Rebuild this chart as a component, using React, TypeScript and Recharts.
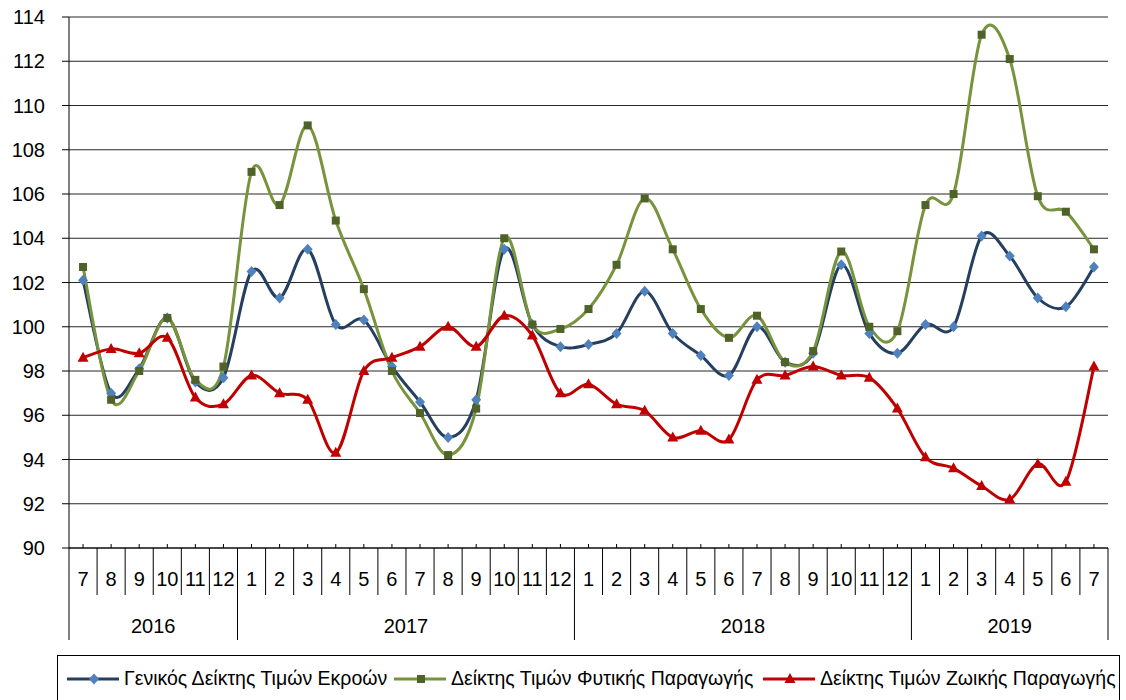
import { CartesianGrid, Legend, Line, LineChart, XAxis, YAxis } from "recharts";

const months = [
  7, 8, 9, 10, 11, 12,
  1, 2, 3, 4, 5, 6, 7, 8, 9, 10, 11, 12,
  1, 2, 3, 4, 5, 6, 7, 8, 9, 10, 11, 12,
  1, 2, 3, 4, 5, 6, 7,
];
const years = [
  ...Array(6).fill("2016"),
  ...Array(12).fill("2017"),
  ...Array(12).fill("2018"),
  ...Array(7).fill("2019"),
];

const general = [
  102.1, 97.0, 98.1, 100.4, 97.5, 97.7,
  102.5, 101.3, 103.5, 100.1, 100.3, 98.2, 96.6, 95.0, 96.7, 103.5, 100.1, 99.1,
  99.2, 99.7, 101.6, 99.7, 98.7, 97.8, 100.0, 98.4, 98.8, 102.8, 99.7, 98.8,
  100.1, 100.0, 104.1, 103.2, 101.3, 100.9, 102.7,
];
const plant = [
  102.7, 96.7, 98.0, 100.4, 97.6, 98.2,
  107.0, 105.5, 109.1, 104.8, 101.7, 98.0, 96.1, 94.2, 96.3, 104.0, 100.1, 99.9,
  100.8, 102.8, 105.8, 103.5, 100.8, 99.5, 100.5, 98.4, 98.9, 103.4, 100.0, 99.8,
  105.5, 106.0, 113.2, 112.1, 105.9, 105.2, 103.5,
];
const animal = [
  98.6, 99.0, 98.8, 99.5, 96.8, 96.5,
  97.8, 97.0, 96.7, 94.3, 98.0, 98.6, 99.1, 100.0, 99.1, 100.5, 99.6, 97.0,
  97.4, 96.5, 96.2, 95.0, 95.3, 94.9, 97.6, 97.8, 98.2, 97.8, 97.7, 96.3,
  94.1, 93.6, 92.8, 92.2, 93.8, 93.0, 98.2,
];

const yTicks = [90, 92, 94, 96, 98, 100, 102, 104, 106, 108, 110, 112, 114];

const seriesNames = [
  "Γενικός Δείκτης Τιμών Εκροών",
  "Δείκτης Τιμών Φυτικής Παραγωγής",
  "Δείκτης Τιμών Ζωικής Παραγωγής",
];

const data = months.map((m, i) => ({
  key: String(i),
  month: m,
  year: years[i],
  general: general[i],
  plant: plant[i],
  animal: animal[i],
}));

const FONT = "'Liberation Sans', Arial, sans-serif";

// excel-like smoothed line (bezier through points, 1/6 neighbour tangents)
const excelSmooth = (context: any) => {
  let pts: number[][] = [];
  return {
    areaStart() {},
    areaEnd() {},
    lineStart() {
      pts = [];
    },
    point(x: number, y: number) {
      pts.push([+x, +y]);
    },
    lineEnd() {
      const n = pts.length;
      if (!n) return;
      context.moveTo(pts[0][0], pts[0][1]);
      const t = 1 / 6;
      for (let i = 0; i < n - 1; i++) {
        const p0 = pts[i - 1] || pts[i];
        const p1 = pts[i];
        const p2 = pts[i + 1];
        const p3 = pts[i + 2] || p2;
        context.bezierCurveTo(
          p1[0] + (p2[0] - p0[0]) * t,
          p1[1] + (p2[1] - p0[1]) * t,
          p2[0] - (p3[0] - p1[0]) * t,
          p2[1] - (p3[1] - p1[1]) * t,
          p2[0],
          p2[1]
        );
      }
    },
  };
};

const Diamond = ({ cx, cy, fill }: any) =>
  cx == null ? null : (
    <path d={`M${cx},${cy - 5.5}L${cx + 5},${cy}L${cx},${cy + 5.5}L${cx - 5},${cy}Z`} fill={fill} />
  );
const Square = ({ cx, cy, fill }: any) =>
  cx == null ? null : <rect x={cx - 4} y={cy - 4} width={8} height={8} fill={fill} />;
const Triangle = ({ cx, cy, fill }: any) =>
  cx == null ? null : (
    <path d={`M${cx},${cy - 6}L${cx + 5.5},${cy + 4}L${cx - 5.5},${cy + 4}Z`} fill={fill} />
  );

const MonthTick = (props: any) => {
  const { x, y, payload } = props;
  const i = payload.index;
  const half = payload.offset || 14;
  const yr = years[i];
  const yearStart = i === 0 || years[i - 1] !== yr;
  const last = i === months.length - 1;
  const count = years.filter((v) => v === yr).length;
  return (
    <g>
      <line x1={x} x2={x} y1={y - 4} y2={y} stroke="#000" />
      <line x1={x - half} x2={x - half} y1={y} y2={y + (yearStart ? 92 : 47)} stroke="#000" />
      {last && <line x1={x + half} x2={x + half} y1={y} y2={y + 92} stroke="#000" />}
      <text x={x} y={y + 31} textAnchor="middle" dominantBaseline="central" fontSize={20} fontFamily={FONT} fill="#000">
        {months[i]}
      </text>
      {yearStart && (
        <text
          x={x - half + count * half}
          y={y + 78}
          textAnchor="middle"
          dominantBaseline="central"
          fontSize={20}
          fontFamily={FONT}
          fill="#000"
        >
          {yr}
        </text>
      )}
    </g>
  );
};

const legendItems = [
  { name: seriesNames[0], line: "#243F60", mark: "#4F81BD", shape: "diamond", left: 9 },
  { name: seriesNames[1], line: "#77933C", mark: "#4F6228", shape: "square", left: 336 },
  { name: seriesNames[2], line: "#C00000", mark: "#C00000", shape: "triangle", left: 705 },
];

const LegendBox = () => (
  <div style={{ height: 52, paddingTop: 7, boxSizing: "border-box" }}>
    <div
      style={{
        position: "relative",
        height: 45,
        border: "1px solid #000",
        borderBottom: "none",
        boxSizing: "border-box",
        fontFamily: FONT,
        fontSize: 19.5,
        overflow: "hidden",
      }}
    >
      {legendItems.map((it) => (
        <div
          key={it.name}
          style={{ position: "absolute", left: it.left, top: 11, display: "flex", alignItems: "center", whiteSpace: "nowrap" }}
        >
          <svg width={52} height={14}>
            <line x1={0} x2={52} y1={7} y2={7} stroke={it.line} strokeWidth={3} />
            {it.shape === "diamond" && <Diamond cx={27} cy={7} fill={it.mark} />}
            {it.shape === "square" && <Square cx={27} cy={7} fill={it.mark} />}
            {it.shape === "triangle" && <Triangle cx={27} cy={7} fill={it.mark} />}
          </svg>
          <span style={{ marginLeft: 5 }}>{it.name}</span>
        </div>
      ))}
    </div>
  </div>
);

export default function App() {
  return (
    <div style={{ position: "absolute", left: 0, top: 0, background: "#fff" }}>
      <LineChart width={1126} height={700} data={data} margin={{ top: 17, right: 18, left: 0, bottom: 0 }}>
        <CartesianGrid horizontal vertical={false} stroke="#000" strokeOpacity={0.85} />
        <XAxis
          dataKey="key"
          scale="band"
          interval={0}
          height={100}
          tickSize={0}
          tickMargin={0}
          axisLine={{ stroke: "#000" }}
          tickLine={false}
          tick={<MonthTick />}
        />
        <YAxis
          domain={[90, 114]}
          ticks={yTicks}
          width={69}
          tickSize={7}
          tickMargin={17}
          axisLine={{ stroke: "#000" }}
          tickLine={{ stroke: "#000" }}
          tick={{ fontSize: 20, fontFamily: FONT, fill: "#000" }}
        />
        <Legend
          verticalAlign="bottom"
          wrapperStyle={{ left: 57, width: 1063 }}
          content={() => <LegendBox />}
        />
        <Line
          dataKey="general"
          name={seriesNames[0]}
          type={excelSmooth as any}
          stroke="#243F60"
          strokeWidth={3}
          dot={<Diamond fill="#4F81BD" />}
          activeDot={false}
          isAnimationActive={false}
        />
        <Line
          dataKey="plant"
          name={seriesNames[1]}
          type={excelSmooth as any}
          stroke="#77933C"
          strokeWidth={3}
          dot={<Square fill="#4F6228" />}
          activeDot={false}
          isAnimationActive={false}
        />
        <Line
          dataKey="animal"
          name={seriesNames[2]}
          type={excelSmooth as any}
          stroke="#C00000"
          strokeWidth={3}
          dot={<Triangle fill="#C00000" />}
          activeDot={false}
          isAnimationActive={false}
        />
      </LineChart>
    </div>
  );
}
